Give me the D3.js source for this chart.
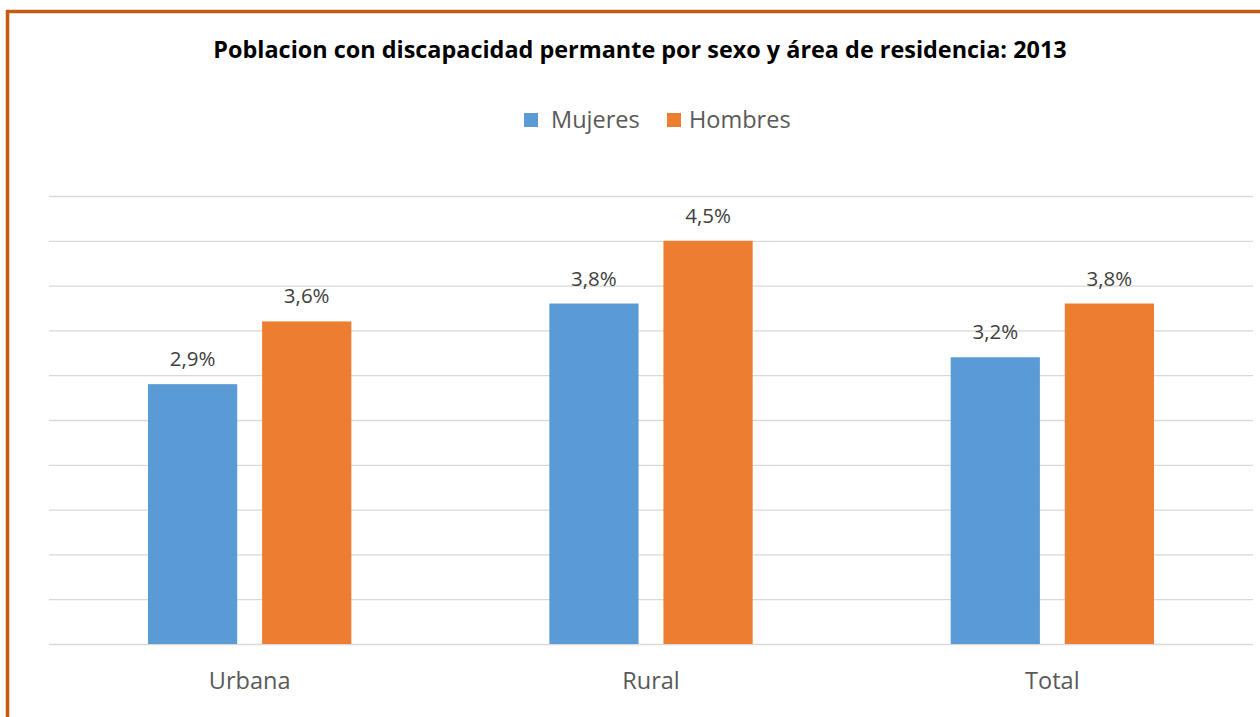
<!DOCTYPE html>
<html>
<head>
<meta charset="utf-8">
<script src="https://cdn.jsdelivr.net/npm/d3@7"></script>
<style>
  body { margin: 0; background: #fff; }
  svg { display: block; font-family: "Open Sans", "Noto Sans", sans-serif; }
</style>
</head>
<body>
<svg id="chart" width="1260" height="717"></svg>
<script>
const categories = ['Urbana', 'Rural', 'Total'];
const seriesNames = ['Mujeres', 'Hombres'];
const mujeres = [2.9, 3.8, 3.2];
const hombres = [3.6, 4.5, 3.8];
const yTicks = [0, 0.5, 1, 1.5, 2, 2.5, 3, 3.5, 4, 4.5, 5];
const title = 'Poblacion con discapacidad permante por sexo y área de residencia: 2013';

const colors = { Mujeres: '#5B9BD5', Hombres: '#ED7D31' };
const margin = { left: 49, right: 7, top: 196, bottom: 73 };
const width = 1260, height = 717;

const rows = categories.map((c, i) => ({ cat: c, Mujeres: mujeres[i], Hombres: hombres[i] }));

const svg = d3.select('#chart');

// chart frame
svg.append('rect')
    .attr('x', 7.5).attr('y', 11.5)
    .attr('width', 1320).attr('height', 800)
    .attr('fill', 'none')
    .attr('stroke', '#C55A11')
    .attr('stroke-width', 3.5);

const x0 = d3.scaleBand()
    .domain(categories)
    .range([margin.left, width - margin.right])
    .padding(0);

const x1 = d3.scaleBand()
    .domain(seriesNames)
    .range([99, x0.bandwidth() - 99])
    .paddingInner(0.218);

const y = d3.scaleLinear()
    .domain([0, 5])
    .range([height - margin.bottom, margin.top]);

// gridlines
const yAxis = d3.axisLeft(y)
    .tickValues(yTicks)
    .tickSize(-(x0.range()[1] - x0.range()[0]))
    .tickFormat('');
svg.append('g')
    .attr('transform', `translate(${margin.left},0)`)
    .call(yAxis)
    .call(g => g.select('.domain').remove())
    .call(g => g.selectAll('.tick line').attr('stroke', '#D9D9D9').attr('stroke-width', 1.3));

// bars
const groups = svg.append('g').selectAll('g')
    .data(rows)
    .join('g')
    .attr('transform', d => `translate(${x0(d.cat)},0)`);

groups.selectAll('rect')
    .data(d => seriesNames.map(s => ({ s, v: d[s] })))
    .join('rect')
    .attr('x', d => x1(d.s))
    .attr('width', x1.bandwidth())
    .attr('y', d => y(d.v))
    .attr('height', d => y(0) - y(d.v))
    .attr('fill', d => colors[d.s]);

groups.selectAll('text')
    .data(d => seriesNames.map(s => ({ s, v: d[s] })))
    .join('text')
    .attr('x', d => x1(d.s) + x1.bandwidth() / 2)
    .attr('y', d => y(d.v) - 18)
    .attr('text-anchor', 'middle')
    .attr('font-size', 20.5)
    .attr('fill', '#404040')
    .text(d => d3.format('.1f')(d.v).replace('.', ',') + '%');

// x axis labels
const xAxis = d3.axisBottom(x0).tickSize(0).tickPadding(0);
svg.append('g')
    .attr('transform', `translate(0,${y(0)})`)
    .call(xAxis)
    .call(g => g.select('.domain').remove())
    .call(g => g.selectAll('.tick text')
        .attr('dy', null)
        .attr('y', 45)
        .attr('font-size', 23.5)
        .attr('font-family', '"Open Sans", sans-serif')
        .attr('fill', '#595959'));

// title
const t = svg.append('text')
    .attr('x', 640)
    .attr('y', 58)
    .attr('text-anchor', 'middle')
    .attr('font-weight', 'bold')
    .attr('font-size', 22)
    .attr('fill', '#000')
    .text(title);
// scale to the width of the original heading
const tw = t.node().getComputedTextLength();
t.attr('font-size', 22 * 854 / tw);

// legend
const legend = svg.append('g');
const legendX = [524, 667];
seriesNames.forEach((s, i) => {
    legend.append('rect')
        .attr('x', legendX[i]).attr('y', 113)
        .attr('width', 14).attr('height', 14)
        .attr('fill', colors[s]);
    legend.append('text')
        .attr('x', legendX[i] + (i === 0 ? 27 : 22))
        .attr('y', 128)
        .attr('font-size', 23.5)
        .attr('fill', '#595959')
        .text(s);
});
</script>
</body>
</html>
